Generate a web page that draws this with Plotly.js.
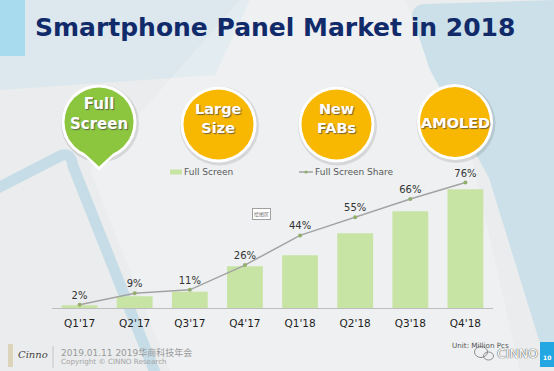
<!DOCTYPE html>
<html>
<head>
<meta charset="utf-8">
<script src="https://cdn.plot.ly/plotly-3.0.1.min.js"></script>
<style>
html,body{margin:0;padding:0;background:#eaeced;}
#chart{width:554px;height:371px;}
</style>
</head>
<body>
<div id="chart"></div>
<script>
// ---- data ----
const quarters = ["Q1'17", "Q2'17", "Q3'17", "Q4'17", "Q1'18", "Q2'18", "Q3'18", "Q4'18"];
const fullScreenUnits = [8, 35, 49, 125, 158, 224, 290, 356];   // Million Pcs (estimated)
const fullScreenShare = [2, 9, 11, 26, 44, 55, 66, 76];          // %
const shareLabels = fullScreenShare.map(v => v + '%');
const seriesNames = ['Full Screen', 'Full Screen Share'];
const badgeTexts = ['Full<br>Screen', 'Large<br>Size', 'New<br>FABs', 'AMOLED'];

// ---- geometry helpers (pixel -> paper) ----
const W = 554, H = 371, ML = 52, MR = 61, MT = 158, MB = 63;
const PW = W - ML - MR, PH = H - MT - MB;
const fx = p => (p - ML) / PW;
const fy = p => 1 - (p - MT) / PH;

const shapes = [];
const ann = [];
function rect(x0, y0, x1, y1, fill, extra) {
  shapes.push(Object.assign({type: 'rect', xref: 'paper', yref: 'paper', layer: 'below',
    x0: fx(x0), x1: fx(x1), y0: fy(y1), y1: fy(y0), fillcolor: fill, line: {width: 0}}, extra || {}));
}
function circ(cx, cy, r, fill, line) {
  shapes.push({type: 'circle', xref: 'paper', yref: 'paper', layer: 'below',
    x0: fx(cx - r), x1: fx(cx + r), y0: fy(cy + r), y1: fy(cy - r),
    fillcolor: fill, line: line || {width: 0}});
}
function ellipse(cx, cy, rx, ry, fill, line) {
  shapes.push({type: 'circle', xref: 'paper', yref: 'paper', layer: 'below',
    x0: fx(cx - rx), x1: fx(cx + rx), y0: fy(cy + ry), y1: fy(cy - ry),
    fillcolor: fill, line: line || {width: 0}});
}
function path(cmds, fill, line) {
  let d = '';
  cmds.forEach(c => {
    d += c[0];
    for (let i = 1; i < c.length; i += 2) d += ' ' + fx(c[i]) + ',' + fy(c[i + 1]) + ' ';
  });
  shapes.push({type: 'path', xref: 'paper', yref: 'paper', layer: 'below', path: d,
    fillcolor: fill, line: line || {width: 0}});
}
function text(t, x, y, opt) {
  opt = opt || {};
  ann.push({xref: 'paper', yref: 'paper', x: fx(x), y: fy(y), text: t, showarrow: false,
    xanchor: opt.xa || 'center', yanchor: opt.ya || 'middle', align: opt.align || 'center',
    font: Object.assign({family: 'DejaVu Sans', size: 10, color: '#333'}, opt.font || {}),
    bgcolor: opt.bg, bordercolor: opt.bc, borderwidth: opt.bw || 0, borderpad: opt.bp || 0});
}

// ---- background decoration ----
path([['M', 0, 0], ['L', 250, 0], ['L', 215, 75], ['L', 0, 90], ['Z']], 'rgba(205,228,238,0.45)');
path([['M', 240, 0], ['L', 405, 0], ['L', 470, 150], ['L', 520, 371], ['L', 170, 371], ['L', 90, 170], ['Z']], 'rgba(255,255,255,0.22)');
path([['M', 412, 16], ['Q', 413, 4, 426, 4], ['L', 554, 0], ['L', 554, 344], ['Q', 547, 354, 539, 340],
      ['L', 489, 178], ['L', 430, 70], ['Z']], '#cbe0e9');
path([['M', -6, 190], ['L', 60, 156], ['Q', 71, 151, 73, 166], ['L', 156, 375]], 'rgba(0,0,0,0)',
     {color: '#c6dde8', width: 11});
rect(0, 0, 25, 56, '#a9dbef');

// ---- badges ----
const orange = '#f8b700', green = '#8cc63f';
circ(100, 123.5, 39, 'rgba(0,0,0,0.10)');
path([['M', 64, 136], ['L', 134, 136], ['L', 99, 170.5], ['Z']], '#ffffff');
circ(99, 122, 37.5, '#ffffff');
path([['M', 68, 138], ['L', 130, 138], ['L', 99, 166.5], ['Z']], green);
circ(99, 122, 34.5, green);
[[218.5, 124.5], [336.5, 124.5], [455, 122]].forEach(c => {
  circ(c[0] + 1, c[1] + 1.5, 39.5, 'rgba(0,0,0,0.10)');
  circ(c[0], c[1], 38, '#ffffff');
  circ(c[0], c[1], 35, orange);
});
const badgeFont = {family: 'DejaVu Sans', size: 15, color: '#ffffff', weight: 'bold',
  shadow: '1px 1px 1px rgba(70,70,70,0.75)'};
text(badgeTexts[0], 99, 114, {font: Object.assign({}, badgeFont, {size: 15})});
text(badgeTexts[1], 218.5, 118, {font: Object.assign({}, badgeFont, {size: 14.5})});
text(badgeTexts[2], 336.5, 118, {font: Object.assign({}, badgeFont, {size: 14.5})});
text(badgeTexts[3], 455, 122.5, {font: Object.assign({}, badgeFont, {size: 14.5})});

// ---- title ----
text('Smartphone Panel Market in 2018', 35, 27, {xa: 'left',
  font: {family: 'DejaVu Sans', size: 25, color: '#112a6a', weight: 'bold'}});

// ---- custom legend ----
const barColor = '#c8e4a5', lineColor = '#a3a3a3', markerColor = '#93ad6c';
rect(170, 169.5, 182, 174.5, barColor);
text(seriesNames[0], 184, 172, {xa: 'left', font: {size: 9, color: '#595959'}});
shapes.push({type: 'line', xref: 'paper', yref: 'paper', layer: 'below',
  x0: fx(299), x1: fx(313), y0: fy(172), y1: fy(172), line: {color: lineColor, width: 1.5}});
circ(306, 172, 1.6, markerColor);
text(seriesNames[1], 315, 172, {xa: 'left', font: {size: 9, color: '#595959'}});

// small tag
text('绘图区', 261, 213.5, {font: {family: 'Noto Sans CJK SC', size: 5, color: '#777'},
  bg: '#ffffff', bc: '#a0a0a0', bw: 1, bp: 1});

// ---- footer ----
rect(8, 344, 13, 367, '#dcd3bb');
text('Cinno', 18, 354, {xa: 'left', font: {family: 'DejaVu Serif', size: 10, color: '#444', style: 'italic'}});
shapes.push({type: 'line', xref: 'paper', yref: 'paper', layer: 'below',
  x0: fx(53), x1: fx(53), y0: fy(346), y1: fy(368), line: {color: '#c4c4c4', width: 1}});
text('2019.01.11 2019华商科技年会', 61, 352, {xa: 'left',
  font: {family: 'DejaVu Sans, Noto Sans CJK SC', size: 9, color: '#9a9a9a'}});
text('Copyright © CINNO Research', 61, 361.5, {xa: 'left', font: {size: 7.2, color: '#a3a3a3'}});
text('Unit: Million Pcs', 452, 345, {xa: 'left', font: {size: 7.2, color: '#555'}});
ellipse(481, 352, 6.5, 5.5, 'rgba(0,0,0,0)', {color: '#8c8c8c', width: 1});
ellipse(488.5, 356, 5, 4, 'rgba(0,0,0,0)', {color: '#8c8c8c', width: 1});
text('CINNO', 517, 353, {font: {size: 12.5, color: '#ffffff', shadow: '0 0 1px #555, 0 0 1px #555'}});
rect(540, 342, 554, 367, '#22a7e2');
text('10', 547, 357, {font: {size: 6, color: '#ffffff', weight: 'bold'}});

// ---- traces ----
const traces = [
  {type: 'bar', name: seriesNames[0], x: quarters, y: fullScreenUnits,
   marker: {color: barColor}, hoverinfo: 'skip'},
  {type: 'scatter', name: seriesNames[1], x: quarters, y: fullScreenShare, yaxis: 'y2',
   mode: 'lines+markers+text', text: shareLabels, textposition: 'top center',
   textfont: {family: 'DejaVu Sans', size: 10, color: '#333'},
   line: {color: lineColor, width: 1.5}, marker: {color: markerColor, size: 4}, hoverinfo: 'skip',
   cliponaxis: false}
];

const layout = {
  width: W, height: H,
  margin: {l: ML, r: MR, t: MT, b: MB, pad: 0},
  paper_bgcolor: '#eaeced', plot_bgcolor: 'rgba(0,0,0,0)',
  showlegend: false, bargap: 0.35, hovermode: false,
  xaxis: {type: 'category', range: [-0.5, 7.5], showline: true, linecolor: '#bdbdbd', linewidth: 1,
    showgrid: false, zeroline: false, ticks: '', ticklabelstandoff: 5,
    tickfont: {family: 'DejaVu Sans', size: 10.5, color: '#1f1f1f'}, fixedrange: true},
  yaxis: {range: [0, 450], visible: false, fixedrange: true},
  yaxis2: {range: [0, 90.9], overlaying: 'y', visible: false, fixedrange: true},
  shapes: shapes, annotations: ann
};

Plotly.newPlot('chart', traces, layout, {displayModeBar: false, staticPlot: true});
</script>
</body>
</html>
